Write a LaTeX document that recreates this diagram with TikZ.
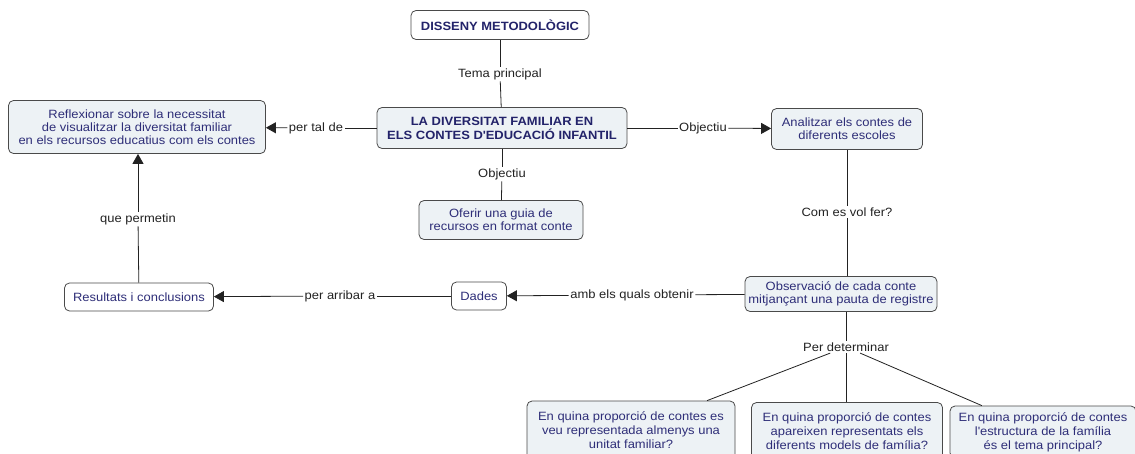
\documentclass[tikz,border=0pt]{standalone}
\usepackage{fontspec}
\setmainfont{Liberation Sans}[FakeStretch=1.08]
\usetikzlibrary{arrows.meta}
\definecolor{cfill}{HTML}{EDF2F5}
\definecolor{ctext}{HTML}{2E2E78}
\definecolor{cbold}{HTML}{23236A}
\definecolor{cborder}{HTML}{4A4A4A}
\definecolor{clbl}{HTML}{222222}
\tikzset{
  concept/.style={draw=cborder, line width=0.8pt, rounded corners=5pt, fill=cfill,
    text=ctext, align=center, font=\fontsize{12}{13}\selectfont, inner sep=0pt},
  wconcept/.style={concept, fill=white},
  qtext/.style={font=\fontsize{12}{14}\selectfont},
  boldtext/.style={text=cbold, font=\bfseries\fontsize{12}{14}\selectfont},
  lbl/.style={text=clbl, font=\fontsize{12}{13}\selectfont, inner sep=1.5pt},
  conn/.style={draw=clbl, line width=0.8pt},
  arr/.style={conn, -{Triangle[length=10pt,width=11pt]}},
}
\begin{document}
\begin{tikzpicture}[x=1pt,y=-1pt]
\useasboundingbox[fill=white] (0,0) rectangle (1135,453);

% concepts
\node[wconcept, boldtext, minimum width=178pt, minimum height=29pt] (dm) at (500,25) {DISSENY METODOLÒGIC};
\node[concept, boldtext, minimum width=250pt, minimum height=41pt] (main) at (502,128) {LA DIVERSITAT FAMILIAR EN\\ELS CONTES D\textquotesingle EDUCACIÓ INFANTIL};
\node[concept, minimum width=257pt, minimum height=53pt] (refl) at (137,127) {Reflexionar sobre la necessitat\\de visualitzar la diversitat familiar\\en els recursos educatius com els contes};
\node[concept, minimum width=151pt, minimum height=41pt] (anal) at (847,129) {Analitzar els contes de\\diferents escoles};
\node[concept, minimum width=164pt, minimum height=39pt] (ofer) at (501,220) {Oferir una guia de\\recursos en format conte};
\node[concept, minimum width=192pt, minimum height=35pt] (obs) at (841,294) {Observació de cada conte\\mitjançant una pauta de registre};
\node[wconcept, minimum width=149pt, minimum height=28pt] (res) at (139,297) {Resultats i conclusions};
\node[wconcept, minimum width=55pt, minimum height=28pt] (dades) at (479,296) {Dades};
\node[concept, qtext, minimum width=208pt, minimum height=58pt] (q1) at (631,430) {En quina proporció de contes es\\veu representada almenys una\\unitat familiar?};
\node[concept, qtext, minimum width=191pt, minimum height=57pt] (q2) at (847,431) {En quina proporció de contes\\apareixen representats els\\diferents models de família?};
\node[concept, qtext, minimum width=186pt, minimum height=52pt] (q3) at (1043,432) {En quina proporció de contes\\l\textquotesingle estructura de la família\\és el tema principal?};

% linking phrases
\node[lbl] (tema) at (500,74) {Tema principal};
\node[lbl] (pertal) at (316,128) {per tal de};
\node[lbl] (objR) at (703,128) {Objectiu};
\node[lbl] (objD) at (502,174) {Objectiu};
\node[lbl] (com) at (847,212) {Com es vol fer?};
\node[lbl] (quep) at (138,219) {que permetin};
\node[lbl] (perarr) at (340,296) {per arribar a};
\node[lbl] (amb) at (632,295) {amb els quals obtenir};
\node[lbl] (perdet) at (846,347) {Per determinar};

% connectors
\draw[conn] (dm) -- (tema);
\draw[conn] (tema) -- (main);
\draw[conn] (main) -- (pertal);
\draw[arr] (pertal) -- (refl);
\draw[conn] (main) -- (objR);
\draw[arr] (objR) -- (anal);
\draw[conn] (main) -- (objD);
\draw[conn] (objD) -- (ofer);
\draw[conn] (anal) -- (com);
\draw[conn] (com) -- (obs.north -| com);
\draw[conn] (obs) -- (amb);
\draw[arr] (amb) -- (dades);
\draw[conn] (dades) -- (perarr);
\draw[arr] (perarr) -- (res);
\draw[conn] (res) -- (quep);
\draw[arr] (quep) -- (refl.south -| quep);
\draw[conn] (obs.south -| perdet) -- (perdet);
\draw[conn] (perdet) -- (q1);
\draw[conn] (perdet) -- (q2.north -| perdet);
\draw[conn] (perdet) -- (q3);
\end{tikzpicture}
\end{document}
